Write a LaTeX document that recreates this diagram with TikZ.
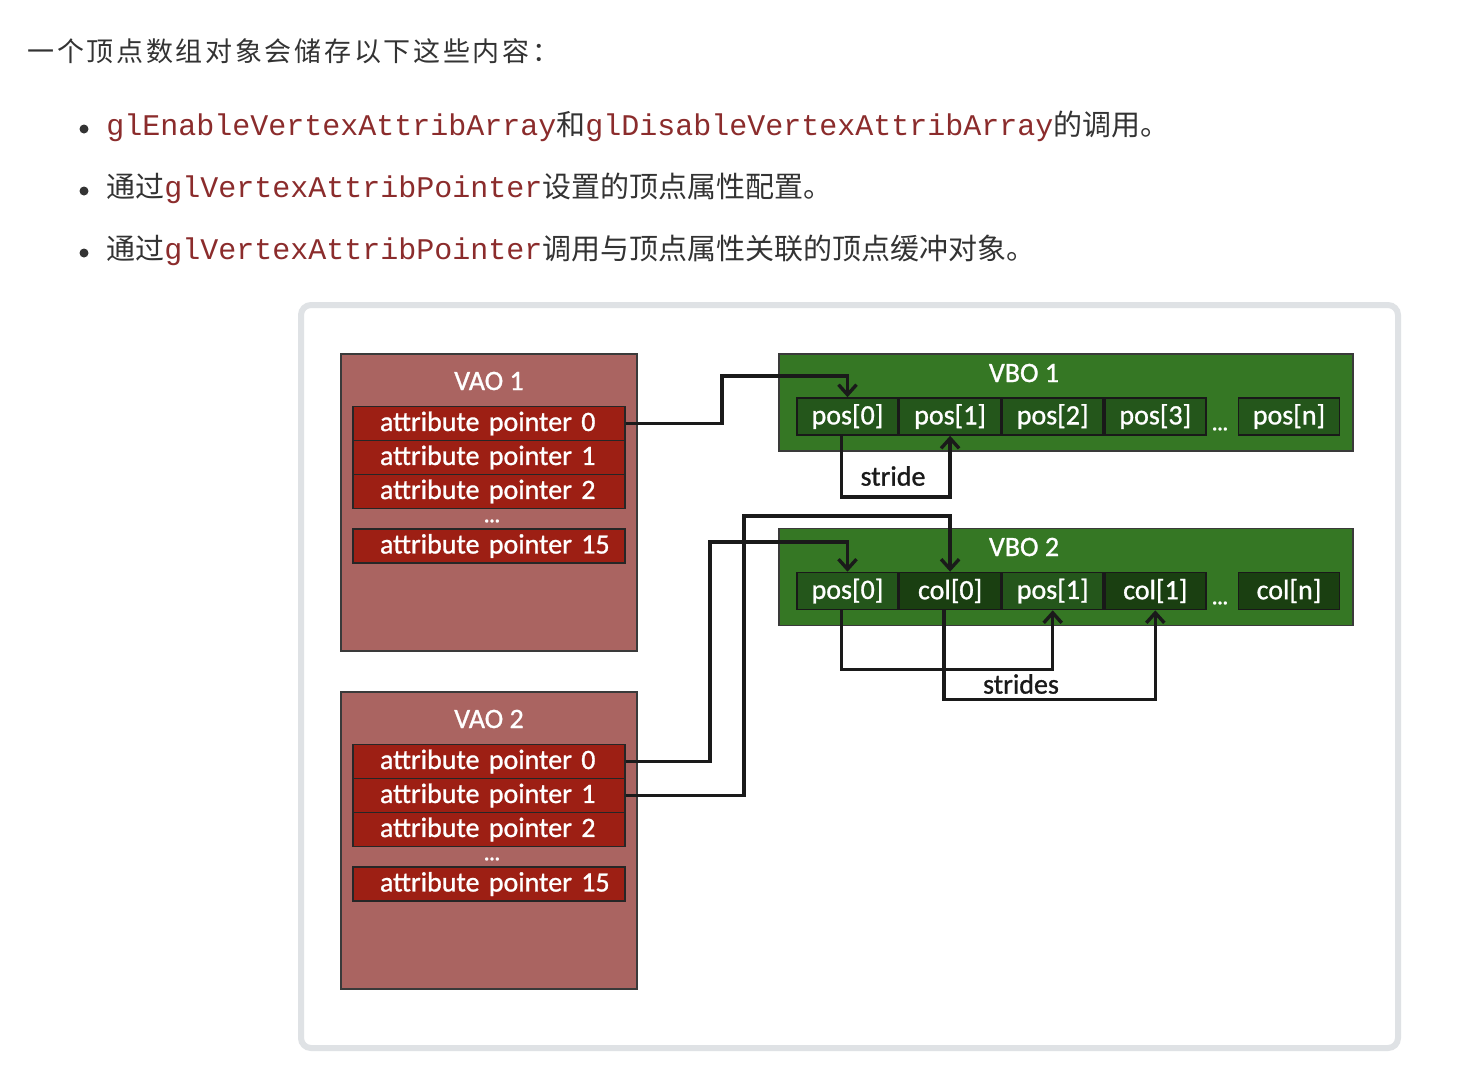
\documentclass[tikz,border=0pt]{standalone}
\usepackage{fontspec}
\setmainfont{Noto Sans CJK SC}
\setmonofont{Liberation Mono}
\newfontfamily\diagfont[FakeBold=1]{Carlito}
\newfontfamily\headfont[LetterSpace=10]{Noto Sans CJK SC}
\usetikzlibrary{positioning, arrows.meta}

\definecolor{textdark}{HTML}{333333}
\definecolor{codered}{HTML}{8B2C2C}
\definecolor{framegray}{HTML}{DFE2E5}
\definecolor{vaobg}{HTML}{AA6461}
\definecolor{attrbg}{HTML}{9D1F14}
\definecolor{vbobg}{HTML}{357724}
\definecolor{posbg}{HTML}{24561B}
\definecolor{colbg}{HTML}{1A3F11}
\definecolor{boxline}{HTML}{3A3A3A}
\definecolor{wirecol}{HTML}{1A1A1A}

\newcommand{\glcode}[1]{{\ttfamily\fontsize{15pt}{17pt}\selectfont\color{codered}#1}}

\begin{document}
\begin{tikzpicture}[x=0.5pt, y=-0.5pt,
  line/.style={anchor=base west, inner sep=0pt, text=textdark, font={\fontsize{14.5pt}{17pt}\selectfont}},
  bullet/.style={circle, fill=textdark, inner sep=0pt, minimum size=4.5pt},
  frame/.style={draw=framegray, line width=3pt, rounded corners=5pt, minimum width=548.5pt, minimum height=371.5pt},
  vao/.style={draw=boxline, line width=0.7pt, fill=vaobg, minimum width=148pt, minimum height=148.5pt},
  attr/.style={draw=black!85, line width=0.9pt, fill=attrbg, text=white, font={\diagfont\fontsize{14pt}{16pt}\selectfont}, minimum height=17pt, text width=136pt, inner xsep=0pt, inner ysep=0pt, align=left, execute at begin node={\hspace*{13.5pt}}},
  title/.style={text=white, font={\diagfont\fontsize{14pt}{16pt}\selectfont}},
  vbo/.style={draw=boxline, line width=0.7pt, fill=vbobg, minimum width=287pt, minimum height=48.5pt},
  cell/.style={draw=black!90, line width=0.8pt, fill=posbg, text=white, font={\diagfont\fontsize{14pt}{16pt}\selectfont}, minimum width=50.5pt, minimum height=18.5pt, inner sep=0pt},
  colcell/.style={cell, fill=colbg},
  dots/.style={text=white, inner sep=0pt, font={\diagfont\fontsize{10pt}{12pt}\selectfont\bfseries}},
  note/.style={text=wirecol, font={\diagfont\fontsize{14pt}{16pt}\selectfont}},
  wire/.style={draw=wirecol, line width=1.7pt},
  arrow/.style={wire, -{Straight Barb[length=5pt,width=9pt]}}
]
\path[use as bounding box, fill=white] (0,0) rectangle (1466,1078);

% Text above the figure
\node[anchor=base west, inner sep=0pt, text=textdark] (heading) at (27,61)
  {\headfont\fontsize{13.5pt}{16pt}\selectfont 一个顶点数组对象会储存以下这些内容：};
\foreach \k/\y in {1/129, 2/191, 3/253}
  \node[bullet] (dot\k) at (84,\y) {};
\node[line] (item1) at (106,135) {\glcode{glEnableVertexAttribArray}和\glcode{glDisableVertexAttribArray}的调用。};
\node[line] (item2) at (106,197) {通过\glcode{glVertexAttribPointer}设置的顶点属性配置。};
\node[line] (item3) at (106,259) {通过\glcode{glVertexAttribPointer}调用与顶点属性关联的顶点缓冲对象。};

% Figure frame
\node[frame] (panel) at (849.5,676.5) {};

% VAOs
\foreach \n/\dy in {1/0, 2/338} {
  \node[vao] (vao\n) at (489, 502.5+\dy) {};
  \node[title] (vao\n-title) at (489, 381+\dy) {VAO \n};
  \foreach \i in {0,1,2}
    \node[attr] (vao\n-r\i) at (489, 423.5+34*\i+\dy) {attribute pointer \i};
  \node[dots] (vao\n-dots) at (492, 521+\dy) {...};
  \node[attr] (vao\n-r15) at (489, 546+\dy) {attribute pointer 15};
}

% VBO 1
\node[vbo] (vbo1) at (1066, 402.5) {};
\node[title] (vbo1-title) at (1024, 373) {VBO 1};
\node[cell] (b1c0) at (847.5, 416.5) {pos[0]};
\node[cell, right=0pt of b1c0] (b1c1) {pos[1]};
\node[cell, right=0pt of b1c1] (b1c2) {pos[2]};
\node[cell, right=0pt of b1c2] (b1c3) {pos[3]};
\node[dots] (b1-dots) at (1220, 429) {...};
\node[cell] (b1cn) at (1289, 416.5) {pos[n]};

% VBO 2
\node[vbo] (vbo2) at (1066, 577) {};
\node[title] (vbo2-title) at (1024, 547) {VBO 2};
\node[cell] (b2c0) at (847.5, 591) {pos[0]};
\node[colcell, right=0pt of b2c0] (b2c1) {col[0]};
\node[cell, right=0pt of b2c1] (b2c2) {pos[1]};
\node[colcell, right=0pt of b2c2] (b2c3) {col[1]};
\node[dots] (b2-dots) at (1220, 603) {...};
\node[colcell] (b2cn) at (1289, 591) {col[n]};

% Pointers
\draw[arrow] (vao1-r0.east) -| (722,376) -| (b1c0.north);
\draw[arrow] (vao2-r0.east) -| (710,542) -| (b2c0.north);
\draw[arrow] (vao2-r1.east) -| (744,516) -| (b2c1.north);

% Strides
\draw[arrow] ([xshift=-3pt]b1c0.south) -- ++(0,61) -| (b1c1.south);
\node[note] (stride1) at (893,476) {stride};
\draw[arrow] ([xshift=-3pt]b2c0.south) -- ++(0,59) -| (b2c2.south);
\draw[arrow] ([xshift=-3pt]b2c1.south) -- ++(0,89) -| (b2c3.south);
\node[note] (stride2) at (1021,684) {strides};

\end{tikzpicture}
\end{document}
